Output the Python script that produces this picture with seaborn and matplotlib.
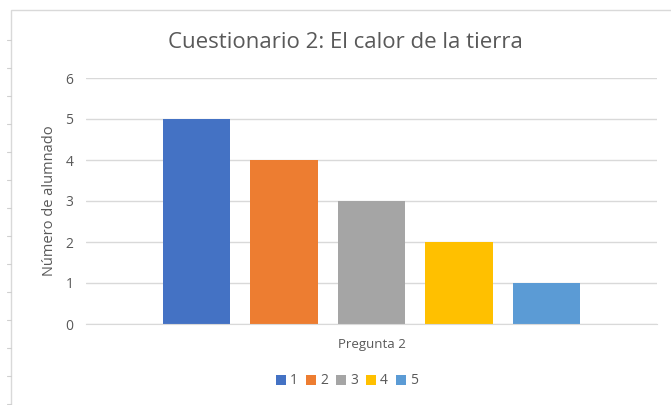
import matplotlib.pyplot as plt
import pandas as pd
import seaborn as sns
from matplotlib.patches import Rectangle

# valores
series = ["1", "2", "3", "4", "5"]
alumnado = [5, 4, 3, 2, 1]
categoria = ["Pregunta 2"] * len(series)
colores = ["#4472C4", "#ED7D31", "#A5A5A5", "#FFC000", "#5B9BD5"]

df = pd.DataFrame({"Pregunta": categoria, "Serie": series, "Alumnado": alumnado})

sns.set_style("white")
plt.rcParams["font.family"] = ["Open Sans", "DejaVu Sans"]
gris = "#595959"

fig = plt.figure(figsize=(6.71, 4.05), dpi=100)
ax = fig.add_axes([86 / 671, 81 / 405, 571 / 671, 246 / 405])

sns.barplot(data=df, x="Pregunta", y="Alumnado", hue="Serie", palette=colores,
            gap=0.23, width=0.8, saturation=1, linewidth=0, ax=ax, legend=True)

ax.set_xlim(-0.522, 0.522)
ax.set_ylim(0, 6)
ax.set_yticks(range(0, 7))
ax.yaxis.grid(True, color="#D9D9D9", linewidth=1)
ax.set_axisbelow(True)
for lado in ["top", "right", "left"]:
    ax.spines[lado].set_visible(False)
ax.spines["bottom"].set_color("#D9D9D9")
ax.tick_params(axis="y", length=0, labelsize=10, colors=gris, pad=9)
ax.tick_params(axis="x", length=0, labelsize=9.5, colors=gris, pad=10)
ax.set_xlabel("")
ax.set_ylabel("Número de alumnado", fontsize=10.5, color=gris, labelpad=6)

fig.text(345 / 671, 1 - 42 / 405, "Cuestionario 2: El calor de la tierra",
         ha="center", va="center", fontsize=16, color=gris)

ax.legend(loc="center", bbox_to_anchor=(347 / 671, 1 - 381 / 405), bbox_transform=fig.transFigure,
          ncol=5, frameon=False, fontsize=10, handlelength=0.7, handleheight=0.7,
          handletextpad=0.3, columnspacing=0.6, labelcolor=gris)

# borde del gráfico y marcas de la hoja
fig.patches.append(Rectangle((11 / 671, -0.1), 1.0, 1 - 10 / 405 + 0.1,
                             transform=fig.transFigure, fill=False,
                             edgecolor="#D9D9D9", linewidth=1))
for yy in range(40, 405, 28):
    fig.add_artist(plt.Line2D([7 / 671, 11 / 671], [1 - yy / 405] * 2,
                              transform=fig.transFigure, color="#D0D0D0", linewidth=0.8))

fig.savefig("out.png", dpi=100)
